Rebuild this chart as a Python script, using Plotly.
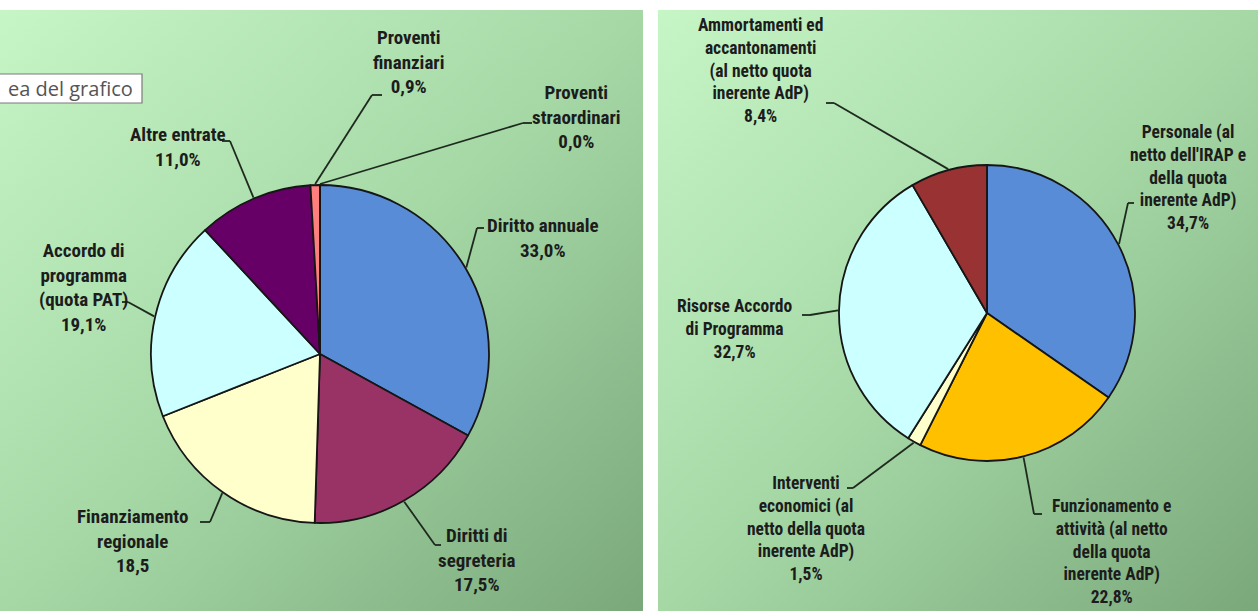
import math, base64
import plotly.graph_objects as go

W, H = 1258, 611

# ---------------- data ----------------
left_labels = ["Diritto annuale", "Diritti di segreteria", "Finanziamento regionale",
               "Accordo di programma (quota PAT)", "Altre entrate",
               "Proventi finanziari", "Proventi straordinari"]
left_values = [33.0, 17.5, 18.5, 19.1, 11.0, 0.9, 0.0]
left_colors = ["#588CD6", "#993366", "#FFFFCC", "#CCFFFF", "#660066", "#FF7F7F", "#FFFFFF"]
left_texts = ["Diritto annuale<br>33,0%", "Diritti di<br>segreteria<br>17,5%",
              "Finanziamento<br>regionale<br>18,5", "Accordo di<br>programma<br>(quota PAT)<br>19,1%",
              "Altre entrate<br>11,0%", "Proventi<br>finanziari<br>0,9%",
              "Proventi<br>straordinari<br>0,0%"]

right_labels = ["Personale (al netto dell'IRAP e della quota inerente AdP)",
                "Funzionamento e attività (al netto della quota inerente AdP)",
                "Interventi economici (al netto della quota inerente AdP)",
                "Risorse Accordo di Programma",
                "Ammortamenti ed accantonamenti (al netto quota inerente AdP)"]
right_values = [34.7, 22.8, 1.5, 32.7, 8.4]
right_colors = ["#588CD6", "#FFC000", "#FFFFCC", "#CCFFFF", "#993333"]
right_texts = ["Personale (al<br>netto dell'IRAP e<br>della quota<br>inerente AdP)<br>34,7%",
               "Funzionamento e<br>attività (al netto<br>della quota<br>inerente AdP)<br>22,8%",
               "Interventi<br>economici (al<br>netto della quota<br>inerente AdP)<br>1,5%",
               "Risorse Accordo<br>di Programma<br>32,7%",
               "Ammortamenti ed<br>accantonamenti<br>(al netto quota<br>inerente AdP)<br>8,4%"]

# ---------------- layout (pixel positions) ----------------
LC, LR = (320, 354), 169
RC, RR = (987, 313), 148
left_label_pos = [(543, 238), (476, 560), (132, 541), (83, 288), (178, 147), (408, 62), (576, 117)]
left_hooks = [((477, 228), (484, 228)), ((435, 545), (441, 545)), ((210, 522), (200, 522)),
              ((128, 302), (122, 302)), ((230, 141), (222, 141)), ((372, 95), (382, 95)),
              ((523, 123), (532, 123))]
right_label_pos = [(1111, 551), (1111, 551), (806, 528), (734, 329), (760, 70)]
right_label_pos[0] = (1188, 177)
right_hooks = [((1128, 203), (1134, 203)), ((1034, 514), (1042, 514)), ((853, 488), (847, 488)),
               ((810, 315), (802, 315)), ((834, 103), (826, 103))]

FONT = "Liberation Sans Narrow, Roboto Condensed, DejaVu Sans Condensed, Arial Narrow, sans-serif"
TXT = "#1c1c1c"


def px(x):
    return x / W


def py(y):
    return 1 - y / H


def domain(c, r):
    return dict(x=[px(c[0] - r), px(c[0] + r)], y=[py(c[1] + r), py(c[1] - r)])


def anchors(values, c, r):
    tot = sum(values)
    out, cum = [], 0.0
    for v in values:
        a = math.radians((cum + v / 2) / tot * 360)
        out.append((c[0] + (r + 1) * math.sin(a), c[1] - (r + 1) * math.cos(a)))
        cum += v
    return out


fig = go.Figure()
for labels, values, colors, c, r in [(left_labels, left_values, left_colors, LC, LR),
                                     (right_labels, right_values, right_colors, RC, RR)]:
    fig.add_trace(go.Pie(labels=labels, values=values, sort=False, direction="clockwise",
                         rotation=0, textinfo="none", hoverinfo="label+value",
                         marker=dict(colors=colors, line=dict(color="#161616", width=1.8)),
                         domain=domain(c, r), showlegend=False))

shapes, annotations, images = [], [], []

grad_svg = ('<svg xmlns="http://www.w3.org/2000/svg" width="100" height="100" preserveAspectRatio="none">'
            '<defs><linearGradient id="g" x1="0" y1="0" x2="1" y2="1">'
            '<stop offset="0" stop-color="#C6F5C6"/><stop offset="0.5" stop-color="#A6D8A6"/>'
            '<stop offset="1" stop-color="#7AA87B"/></linearGradient></defs>'
            '<rect width="100" height="100" fill="url(#g)"/></svg>')
src = "data:image/svg+xml;base64," + base64.b64encode(grad_svg.encode()).decode()
for x0, x1 in [(0, 643), (658, 1258)]:
    images.append(dict(source=src, xref="paper", yref="paper", x=px(x0), y=py(10),
                       sizex=px(x1) - px(x0), sizey=py(10) - py(611), sizing="stretch",
                       xanchor="left", yanchor="top", layer="below"))

for values, c, r, texts, pos, hooks, fs in [
        (left_values, LC, LR, left_texts, left_label_pos, left_hooks, 19),
        (right_values, RC, RR, right_texts, right_label_pos, right_hooks, 17.5)]:
    anc = anchors(values, c, r)
    for t, (lx, ly), a, (elb, end) in zip(texts, pos, anc, hooks):
        annotations.append(dict(text="<b>" + t + "</b>", x=px(lx), y=py(ly), xref="paper", yref="paper",
                                xanchor="center", yanchor="middle", showarrow=False, align="center",
                                borderpad=0, font=dict(family=FONT, size=fs, color=TXT)))
        for p0, p1 in [(a, elb), (elb, end)]:
            shapes.append(dict(type="line", xref="paper", yref="paper",
                               x0=px(p0[0]), y0=py(p0[1]), x1=px(p1[0]), y1=py(p1[1]),
                               line=dict(color="#1e2a1e", width=1.8)))

# tooltip box "...ea del grafico"
shapes.append(dict(type="rect", xref="paper", yref="paper", x0=px(-2), x1=px(142), y0=py(103), y1=py(74),
                   fillcolor="#FFFFFF", line=dict(color="#7a7a7a", width=1.2)))
annotations.append(dict(text="ea del grafico", x=px(6), y=py(89), xref="paper", yref="paper",
                        xanchor="left", yanchor="middle", showarrow=False,
                        font=dict(family="Open Sans, Noto Sans, sans-serif", size=20, color="#555555")))

fig.update_layout(width=W, height=H, margin=dict(l=0, r=0, t=0, b=0),
                  paper_bgcolor="#FFFFFF", plot_bgcolor="#FFFFFF",
                  shapes=shapes, annotations=annotations, images=images)
fig.write_html("out.html", config={"displayModeBar": False},
               post_script="document.body.style.margin='0';document.body.style.padding='0';")
